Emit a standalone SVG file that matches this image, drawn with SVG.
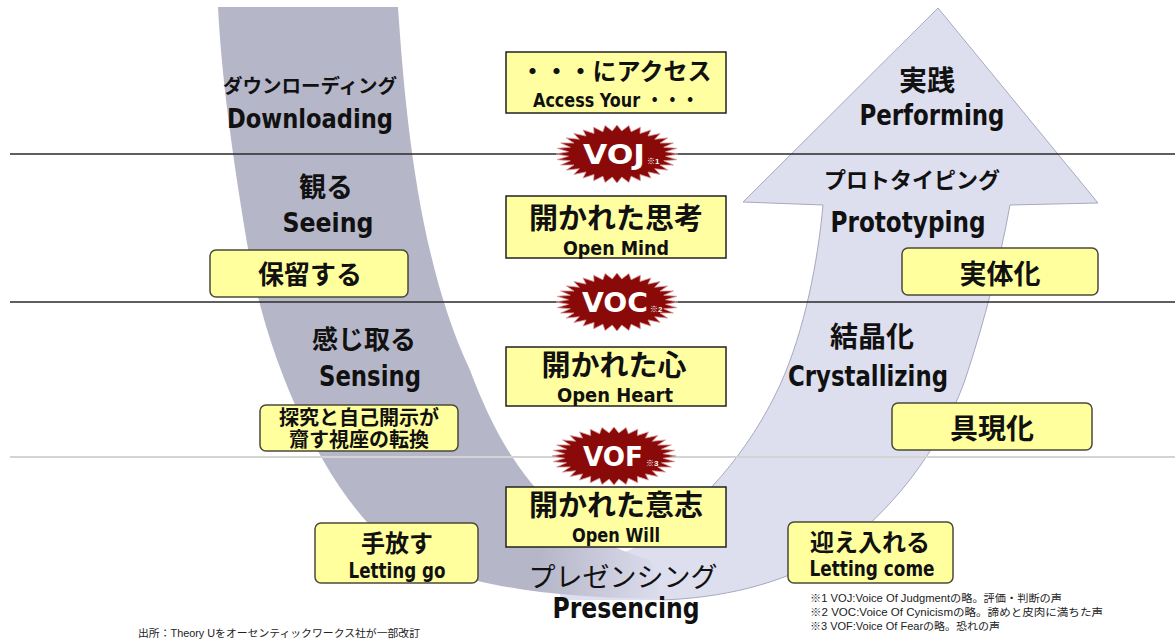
<svg xmlns="http://www.w3.org/2000/svg" xmlns:xlink="http://www.w3.org/1999/xlink" width="1175" height="642" viewBox="0 0 1175 642">
<style>
.jp{font-family:"Noto Sans CJK JP",sans-serif;font-weight:700;fill:#111;text-anchor:middle}
.jpn{font-family:"Noto Sans CJK JP",sans-serif;font-weight:400;fill:#111;text-anchor:middle}
.en{font-family:"DejaVu Sans Condensed","DejaVu Sans","Noto Sans CJK JP",sans-serif;font-stretch:condensed;font-weight:700;fill:#111;text-anchor:middle}
.cbox{fill:#ffffa2;stroke:#222;stroke-width:1.5}
.rbox{fill:#ffff9e;stroke:#4a4a3a;stroke-width:1.5}
.sep{stroke:#2a2a2a;stroke-width:1.5}
.sepl{stroke:#d4d4d4;stroke-width:2}
.burst{fill:#8a0a0a;stroke:#d99a9a;stroke-width:0.8}
.vo{font-family:"DejaVu Sans Condensed","DejaVu Sans",sans-serif;font-stretch:condensed;font-weight:700;fill:#fff;text-anchor:middle;font-size:26px}
.vs{font-family:"Liberation Sans","Noto Sans CJK JP",sans-serif;font-weight:700;fill:#fff;font-size:8px}
.note{font-family:"Liberation Sans","Noto Sans CJK JP",sans-serif;font-size:10.5px;fill:#222}
</style>
<defs>
<linearGradient id="gfade" gradientUnits="userSpaceOnUse" x1="540" y1="0" x2="665" y2="0">
<stop offset="0" stop-color="#b6b6c9"/>
<stop offset="1" stop-color="#dddeee"/>
</linearGradient>
<polygon id="burst" vector-effect="non-scaling-stroke" points="1,0 0.796,0.078 0.981,0.195 0.766,0.232 0.924,0.383 0.706,0.377 0.831,0.556 0.618,0.508 0.707,0.707 0.508,0.618 0.556,0.831 0.377,0.706 0.383,0.924 0.232,0.766 0.195,0.981 0.078,0.796 0,1 -0.078,0.796 -0.195,0.981 -0.232,0.766 -0.383,0.924 -0.377,0.706 -0.556,0.831 -0.508,0.618 -0.707,0.707 -0.618,0.508 -0.831,0.556 -0.706,0.377 -0.924,0.383 -0.766,0.232 -0.981,0.195 -0.796,0.078 -1,0 -0.796,-0.078 -0.981,-0.195 -0.766,-0.232 -0.924,-0.383 -0.706,-0.377 -0.831,-0.556 -0.618,-0.508 -0.707,-0.707 -0.508,-0.618 -0.556,-0.831 -0.377,-0.706 -0.383,-0.924 -0.232,-0.766 -0.195,-0.981 -0.078,-0.796 0,-1 0.078,-0.796 0.195,-0.981 0.232,-0.766 0.383,-0.924 0.377,-0.706 0.556,-0.831 0.508,-0.618 0.707,-0.707 0.618,-0.508 0.831,-0.556 0.706,-0.377 0.924,-0.383 0.766,-0.232 0.981,-0.195 0.796,-0.078"/>
</defs>
<rect width="1175" height="642" fill="#ffffff"/>

<g id="u-shape">
<path d="M560,600 L662,600 C720,598 780,585 830,555 C890,515 940,450 965,380 C985,320 1000,260 1010,205 L1098,203 L938,8 L743,202 L823,205 C818,260 805,330 780,385 C750,450 700,510 640,545 C610,560 580,565 560,565 Z" fill="#dddeee"/>
<path d="M662,600 C720,598 780,585 830,555 C890,515 940,450 965,380 C985,320 1000,260 1010,205 L1098,203 L938,8 L743,202 L823,205 C818,260 805,330 780,385 C750,450 700,510 640,545" fill="none" stroke="#a8a8bf" stroke-width="1"/>
<path d="M218,7 L398,7 C405,110 418,260 470,370 C500,450 545,530 650,560 L662,598 C560,600 450,585 395,548 C330,500 270,370 250,260 C238,190 222,90 218,7 Z" fill="url(#gfade)"/>
</g>

<g id="connectors">
<line class="sep" x1="10" y1="154" x2="1175" y2="154"/>
<line class="sep" x1="10" y1="302" x2="1175" y2="302"/>
<line class="sepl" x1="10" y1="457" x2="1175" y2="457"/>
</g>

<g id="downloading">
<text class="jp" x="310" y="93" font-size="19.5">ダウンローディング</text>
<text class="en" x="310" y="128" font-size="27" textLength="166" lengthAdjust="spacingAndGlyphs">Downloading</text>
</g>
<g id="seeing">
<text class="jp" x="326" y="197" font-size="27">観る</text>
<text class="en" x="328" y="232" font-size="27" textLength="91" lengthAdjust="spacingAndGlyphs">Seeing</text>
</g>
<g id="suspending">
<rect class="rbox" x="210" y="250" width="198" height="47" rx="6"/>
<text class="jp" x="310" y="284" font-size="26">保留する</text>
</g>
<g id="sensing">
<text class="jp" x="364" y="349" font-size="26">感じ取る</text>
<text class="en" x="370" y="386" font-size="28" textLength="102" lengthAdjust="spacingAndGlyphs">Sensing</text>
</g>
<g id="redirecting">
<rect class="rbox" x="260" y="405" width="198" height="46" rx="6"/>
<text class="jp" font-size="20"><tspan x="359" y="425">探究と自己開示が</tspan><tspan x="359" y="447">齎す視座の転換</tspan></text>
</g>
<g id="letting-go">
<rect class="rbox" x="315" y="523" width="163" height="60" rx="6"/>
<text class="jp" x="397" y="552" font-size="24">手放す</text>
<text class="en" x="397" y="578" font-size="22" textLength="97" lengthAdjust="spacingAndGlyphs">Letting go</text>
</g>

<g id="access">
<rect class="cbox" x="506" y="52" width="220" height="61"/>
<text class="jp" x="616" y="80" font-size="24">・・・にアクセス</text>
<text class="en" x="616" y="107" font-size="20" textLength="166" lengthAdjust="spacingAndGlyphs">Access Your ・・・</text>
</g>
<g id="voj">
<use xlink:href="#burst" class="burst" transform="translate(617,154) scale(61,29)"/>
<text class="vo" x="614" y="164" textLength="62" lengthAdjust="spacingAndGlyphs">VOJ</text>
<text class="vs" x="647" y="164">※1</text>
</g>
<g id="open-mind">
<rect class="cbox" x="506" y="196" width="220" height="62"/>
<text class="jp" x="616" y="229" font-size="29">開かれた思考</text>
<text class="en" x="616" y="255" font-size="19" textLength="106" lengthAdjust="spacingAndGlyphs">Open Mind</text>
</g>
<g id="voc">
<use xlink:href="#burst" class="burst" transform="translate(617,302) scale(61,29)"/>
<text class="vo" x="615" y="312" textLength="66" lengthAdjust="spacingAndGlyphs">VOC</text>
<text class="vs" x="650" y="312">※2</text>
</g>
<g id="open-heart">
<rect class="cbox" x="506" y="347" width="220" height="59"/>
<text class="jp" x="614" y="376" font-size="29">開かれた心</text>
<text class="en" x="615" y="402" font-size="20" textLength="116" lengthAdjust="spacingAndGlyphs">Open Heart</text>
</g>
<g id="vof">
<use xlink:href="#burst" class="burst" transform="translate(614,456) scale(62,29)"/>
<text class="vo" x="613" y="466" textLength="60" lengthAdjust="spacingAndGlyphs">VOF</text>
<text class="vs" x="646" y="466">※3</text>
</g>
<g id="open-will">
<rect class="cbox" x="506" y="487" width="220" height="60"/>
<text class="jp" x="616" y="516" font-size="29">開かれた意志</text>
<text class="en" x="616" y="542" font-size="20" textLength="88" lengthAdjust="spacingAndGlyphs">Open Will</text>
</g>
<g id="presencing">
<text class="jpn" x="623" y="587" font-size="27">プレゼンシング</text>
<text class="en" x="626" y="618" font-size="28" textLength="147" lengthAdjust="spacingAndGlyphs">Presencing</text>
</g>

<g id="performing">
<text class="jp" x="927" y="91" font-size="28">実践</text>
<text class="en" x="932" y="125" font-size="28" textLength="145" lengthAdjust="spacingAndGlyphs">Performing</text>
</g>
<g id="prototyping">
<text class="jp" x="912" y="188" font-size="22">プロトタイピング</text>
<text class="en" x="908" y="232" font-size="28" textLength="155" lengthAdjust="spacingAndGlyphs">Prototyping</text>
</g>
<g id="embodying">
<rect class="rbox" x="902" y="248" width="196" height="47" rx="6"/>
<text class="jp" x="1000" y="284" font-size="27">実体化</text>
</g>
<g id="crystallizing">
<text class="jp" x="872" y="347" font-size="28">結晶化</text>
<text class="en" x="868" y="386" font-size="28" textLength="160" lengthAdjust="spacingAndGlyphs">Crystallizing</text>
</g>
<g id="enacting">
<rect class="rbox" x="892" y="403" width="200" height="47" rx="6"/>
<text class="jp" x="992" y="439" font-size="28">具現化</text>
</g>
<g id="letting-come">
<rect class="rbox" x="788" y="522" width="165" height="61" rx="6"/>
<text class="jp" x="870" y="551" font-size="24">迎え入れる</text>
<text class="en" x="872" y="576" font-size="22" textLength="125" lengthAdjust="spacingAndGlyphs">Letting come</text>
</g>

<g id="notes">
<text class="note" x="810" y="602" textLength="252" lengthAdjust="spacingAndGlyphs">※1 VOJ:Voice Of Judgmentの略。評価・判断の声</text>
<text class="note" x="810" y="616" textLength="293" lengthAdjust="spacingAndGlyphs">※2 VOC:Voice Of Cynicismの略。諦めと皮肉に満ちた声</text>
<text class="note" x="810" y="630" textLength="190" lengthAdjust="spacingAndGlyphs">※3 VOF:Voice Of Fearの略。恐れの声</text>
<text class="note" x="138" y="637" textLength="282" lengthAdjust="spacingAndGlyphs">出所：Theory Uをオーセンティックワークス社が一部改訂</text>
</g>
</svg>
